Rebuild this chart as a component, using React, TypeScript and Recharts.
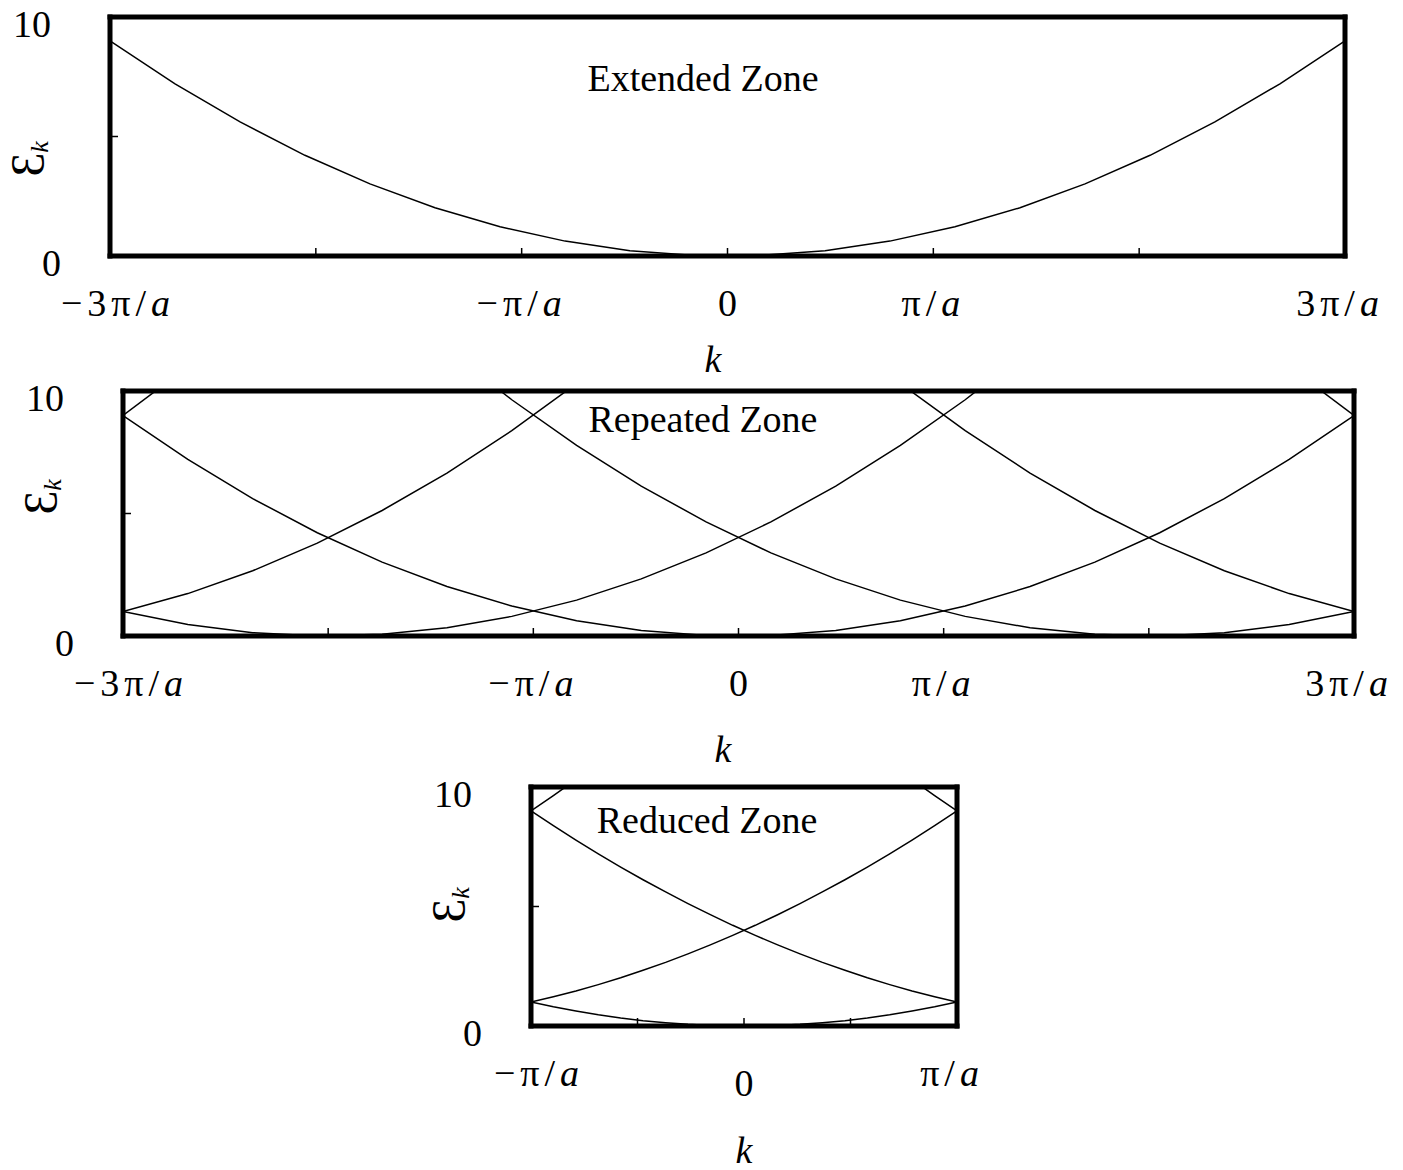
import { LineChart, Line, XAxis, YAxis } from 'recharts'

const SERIF = '"Liberation Serif", "Times New Roman", "DejaVu Serif", serif'
const W = 1403
const H = 1170

// k samples in units of pi/a, 20 points across -3..3 and -1..1
const kExtended = [-3, -2.684, -2.368, -2.053, -1.737, -1.421, -1.105, -0.789, -0.474, -0.158, 0.158, 0.474, 0.789, 1.105, 1.421, 1.737, 2.053, 2.368, 2.684, 3]
const kReduced = [-1, -0.895, -0.789, -0.684, -0.579, -0.474, -0.368, -0.263, -0.158, -0.053, 0.053, 0.158, 0.263, 0.368, 0.474, 0.579, 0.684, 0.789, 0.895, 1]

// free electron band, one parabola
const eExtended = [9, 7.205, 5.609, 4.213, 3.017, 2.019, 1.222, 0.623, 0.224, 0.025, 0.025, 0.224, 0.623, 1.222, 2.019, 3.017, 4.213, 5.609, 7.205, 9]

// repeated zone: parabolas centred on G = -6, -4, -2, 0, 2, 4, 6 (pi/a)
const eRepGm6 = [9, 10.994]
const eRepGm4 = [1, 1.731, 2.662, 3.792, 5.122, 6.651, 8.38, 10.307]
const eRepGm2 = [1, 0.468, 0.136, 0.003, 0.069, 0.335, 0.801, 1.465, 2.33, 3.393, 4.657, 6.119, 7.781, 9.643, 11.704]
const eRepG0 = [9, 7.205, 5.609, 4.213, 3.017, 2.019, 1.222, 0.623, 0.224, 0.025, 0.025, 0.224, 0.623, 1.222, 2.019, 3.017, 4.213, 5.609, 7.205, 9]
const eRepGp2 = [11.704, 9.643, 7.781, 6.119, 4.657, 3.393, 2.33, 1.465, 0.801, 0.335, 0.069, 0.003, 0.136, 0.468, 1]
const eRepGp4 = [10.307, 8.38, 6.651, 5.122, 3.792, 2.662, 1.731, 1]
const eRepGp6 = [10.994, 9]

// reduced zone: bands folded into -pi/a..pi/a
const eRedGm4 = [9, 9.643, 10.307]
const eRedGm2 = [1, 1.222, 1.465, 1.731, 2.019, 2.33, 2.662, 3.017, 3.393, 3.792, 4.213, 4.657, 5.122, 5.609, 6.119, 6.651, 7.205, 7.781, 8.38, 9]
const eRedG0 = [1, 0.801, 0.623, 0.468, 0.335, 0.224, 0.136, 0.069, 0.025, 0.003, 0.003, 0.025, 0.069, 0.136, 0.224, 0.335, 0.468, 0.623, 0.801, 1]
const eRedGp2 = [9, 8.38, 7.781, 7.205, 6.651, 6.119, 5.609, 5.122, 4.657, 4.213, 3.792, 3.393, 3.017, 2.662, 2.33, 2.019, 1.731, 1.465, 1.222, 1]
const eRedGp4 = [10.307, 9.643, 9]

// axis ticks
const wideTicks = [-3, -2, -1, 0, 1, 2, 3]
const wideTickLabels = ['−3π/a', '', '−π/a', '0', 'π/a', '', '3π/a']
const narrowTicks = [-1, -0.5, 0, 0.5, 1]
const narrowTickLabels = ['−π/a', '', '0', '', 'π/a']
const energyTicks = [0, 5, 10]
const energyTickLabels = ['0', '', '10']

const zip = (ks: number[], es: number[]) => es.map((E, i) => ({ k: ks[i], E }))

const frame = { stroke: '#000', strokeWidth: 5, strokeLinecap: 'square' as const }

function PiLabel({ x, y, text }: { x: number; y: number; text: string }) {
  const [num, den] = text.split('/')
  return (
    <text x={x} y={y} textAnchor="middle" fontFamily={SERIF} fontSize={38} letterSpacing={den ? 5 : 0} fill="#000">
      {num}
      {den && <tspan>/</tspan>}
      {den && <tspan fontStyle="italic">{den}</tspan>}
    </text>
  )
}

interface PanelProps {
  left: number
  right: number
  plotTop: number
  plotBottom: number
  kMax: number
  ticks: number[]
  tickLabels: string[]
  zeroDy: number
  series: { k: number; E: number }[][]
  title: string
  titleX: number
  titleY: number
  kLabelX: number
  kLabelY: number
  eLabelY: number
}

// each panel is a full-page svg layered over the others, so text never clips
function Panel(p: PanelProps) {
  const bottomTick = (props: any) => {
    const { x, y, payload } = props
    const i = p.ticks.indexOf(payload.value)
    const label = p.tickLabels[i]
    let dx = 0
    if (i === 0) dx = 8
    if (i === p.ticks.length - 1) dx = -5
    return (
      <g>
        <line x1={x} x2={x} y1={y} y2={y - 8} stroke="#000" strokeWidth={1.5} />
        {label && <PiLabel x={x + dx} y={y + 60 + (payload.value === 0 ? p.zeroDy : 0)} text={label} />}
      </g>
    )
  }
  const topTick = (props: any) => {
    const { x, y } = props
    return <line x1={x} x2={x} y1={y} y2={y + 8} stroke="#000" strokeWidth={1.5} />
  }
  const leftTick = (props: any) => {
    const { x, y, payload } = props
    const label = energyTickLabels[energyTicks.indexOf(payload.value)]
    return (
      <g>
        <line x1={x} x2={x + 8} y1={y} y2={y} stroke="#000" strokeWidth={1.5} />
        {label && (
          <text x={x - (payload.value === 10 ? 59 : 49)} y={y + 20} textAnchor="end" fontFamily={SERIF} fontSize={38} fill="#000">
            {label}
          </text>
        )}
      </g>
    )
  }
  const rightTick = (props: any) => {
    const { x, y } = props
    return <line x1={x} x2={x - 8} y1={y} y2={y} stroke="#000" strokeWidth={1.5} />
  }

  // axes are 1px thick boxes, so margins leave room for them
  return (
    <div style={{ position: 'absolute', left: 0, top: 0 }}>
      <LineChart
        width={W}
        height={H}
        margin={{ top: p.plotTop - 1, bottom: H - p.plotBottom - 1, left: p.left - 1, right: W - p.right - 1 }}
      >
        <XAxis
          dataKey="k"
          type="number"
          domain={[-p.kMax, p.kMax]}
          ticks={p.ticks}
          interval={0}
          height={1}
          tickSize={0}
          tickMargin={0}
          tickLine={false}
          axisLine={frame}
          tick={bottomTick}
          allowDataOverflow
        />
        <XAxis
          xAxisId="top"
          orientation="top"
          dataKey="k"
          type="number"
          domain={[-p.kMax, p.kMax]}
          ticks={p.ticks}
          interval={0}
          height={1}
          tickSize={0}
          tickMargin={0}
          tickLine={false}
          axisLine={frame}
          tick={topTick}
        />
        <YAxis
          type="number"
          domain={[0, 10]}
          ticks={energyTicks}
          interval={0}
          width={1}
          tickSize={0}
          tickMargin={0}
          tickLine={false}
          axisLine={frame}
          tick={leftTick}
          allowDataOverflow
        />
        <YAxis
          yAxisId="right"
          orientation="right"
          type="number"
          domain={[0, 10]}
          ticks={energyTicks}
          interval={0}
          width={1}
          tickSize={0}
          tickMargin={0}
          tickLine={false}
          axisLine={frame}
          tick={rightTick}
        />
        {p.series.map((s, i) => (
          <Line
            key={i}
            data={s}
            dataKey="E"
            type="linear"
            stroke="#000"
            strokeWidth={1.5}
            dot={false}
            activeDot={false}
            isAnimationActive={false}
          />
        ))}
        <text x={p.titleX} y={p.titleY} textAnchor="middle" fontFamily={SERIF} fontSize={38} fill="#000">
          {p.title}
        </text>
        <text x={p.kLabelX} y={p.kLabelY} textAnchor="middle" fontFamily={SERIF} fontSize={38} fontStyle="italic" fill="#000">
          k
        </text>
        <text
          transform={`translate(${p.left - 66},${p.eLabelY}) rotate(-90)`}
          textAnchor="middle"
          fontFamily={SERIF}
          fill="#000"
        >
          <tspan fontSize={48}>Ɛ</tspan>
          <tspan fontSize={26} fontStyle="italic" dy={4}>k</tspan>
        </text>
      </LineChart>
    </div>
  )
}

export default function App() {
  return (
    <div style={{ position: 'absolute', left: 0, top: 0, width: W, height: H, background: '#fff' }}>
      <Panel
        left={110}
        right={1345}
        plotTop={17}
        plotBottom={256}
        kMax={3}
        ticks={wideTicks}
        tickLabels={wideTickLabels}
        zeroDy={0}
        series={[zip(kExtended, eExtended)]}
        title="Extended Zone"
        titleX={703}
        titleY={91}
        kLabelX={713}
        kLabelY={372}
        eLabelY={159}
      />
      <Panel
        left={123}
        right={1354}
        plotTop={391}
        plotBottom={636}
        kMax={3}
        ticks={wideTicks}
        tickLabels={wideTickLabels}
        zeroDy={0}
        series={[
          zip(kExtended.slice(0, 2), eRepGm6),
          zip(kExtended.slice(0, 8), eRepGm4),
          zip(kExtended.slice(0, 15), eRepGm2),
          zip(kExtended, eRepG0),
          zip(kExtended.slice(5), eRepGp2),
          zip(kExtended.slice(12), eRepGp4),
          zip(kExtended.slice(18), eRepGp6),
        ]}
        title="Repeated Zone"
        titleX={703}
        titleY={432}
        kLabelX={723}
        kLabelY={762}
        eLabelY={497}
      />
      <Panel
        left={531}
        right={957}
        plotTop={787}
        plotBottom={1026}
        kMax={1}
        ticks={narrowTicks}
        tickLabels={narrowTickLabels}
        zeroDy={10}
        series={[
          zip(kReduced.slice(0, 3), eRedGm4),
          zip(kReduced, eRedGm2),
          zip(kReduced, eRedG0),
          zip(kReduced, eRedGp2),
          zip(kReduced.slice(17), eRedGp4),
        ]}
        title="Reduced Zone"
        titleX={707}
        titleY={833}
        kLabelX={744}
        kLabelY={1163}
        eLabelY={905}
      />
    </div>
  )
}
